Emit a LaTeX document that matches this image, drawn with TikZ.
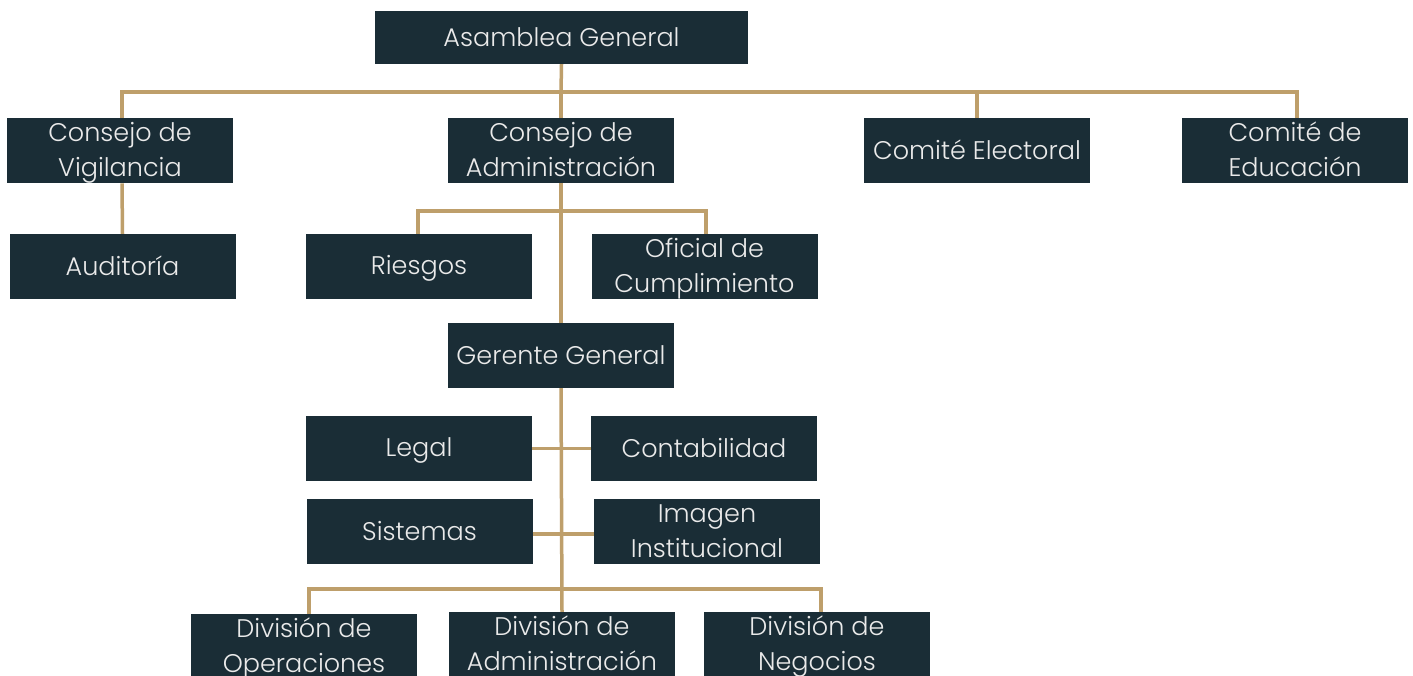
\documentclass[tikz,border=0pt]{standalone}
\usepackage{fontspec}
\setmainfont{Poppins}[UprightFont={* Light}]
\definecolor{boxc}{HTML}{1A2D36}
\definecolor{gold}{HTML}{BE9F6B}
\definecolor{txtc}{HTML}{EAEAEA}
\newcommand\mys{\rule[-6.5pt]{0pt}{30pt}}
\newcommand\lbl[1]{\mys#1\mys}
\begin{document}
\begin{tikzpicture}[x=1pt,y=-1pt,
  unit/.style={fill=boxc, text=txtc, minimum width=226pt, minimum height=65pt, inner sep=0pt, align=center, font=\fontsize{25.5}{35}\selectfont},
  link/.style={draw=gold, line width=3.5pt, line join=miter}]
\clip (0,0) rectangle (1413,675);
\fill[white] (0,0) rectangle (1413,675);
% coordinates of buses
\coordinate (b1) at (561,92);
\coordinate (b2) at (561,211);
\coordinate (b3) at (561,589);
% nodes
\node[unit, minimum width=373pt, minimum height=53pt] (ag) at (561.5,37.5) {\lbl{Asamblea General}};
\node[unit] (cv) at (120,150.5) {\lbl{Consejo de\\Vigilancia}};
\node[unit] (ca) at (561,150.5) {\lbl{Consejo de\\Administración}};
\node[unit] (ce) at (977,150.5) {\lbl{Comité Electoral}};
\node[unit] (cedu) at (1295,150.5) {\lbl{Comité de\\Educación}};
\node[unit] (aud) at (122.5,266.5) {\lbl{Auditoría}};
\node[unit] (rie) at (419,266.5) {\lbl{Riesgos}};
\node[unit] (ofc) at (704.5,266.5) {\lbl{Oficial de\\Cumplimiento}};
\node[unit] (gg) at (561,355.5) {\lbl{Gerente General}};
\node[unit] (leg) at (419,448.5) {\lbl{Legal}};
\node[unit] (con) at (704,448.5) {\lbl{Contabilidad}};
\node[unit] (sis) at (419.5,531.5) {\lbl{Sistemas}};
\node[unit] (img) at (707,531.5) {\lbl{Imagen\\Institucional}};
\node[unit] (dop) at (304,646.5) {\lbl{División de\\Operaciones}};
\node[unit] (dad) at (562,644.5) {\lbl{División de\\Administración}};
\node[unit] (dne) at (817,644.5) {\lbl{División de\\Negocios}};
% connectors
\draw[link] (ag.south) -- (b1);
\draw[link] (b1) -| ([xshift=2pt]cv.north);
\draw[link] (b1) -- (ca.north);
\draw[link] (b1) -| (ce.north);
\draw[link] (b1) -| ([xshift=2pt]cedu.north);
\draw[link] ([xshift=2pt]cv.south) -- (aud.north);
\draw[link] (ca.south) -- (gg.north);
\draw[link] (b2) -| ([xshift=-1pt]rie.north);
\draw[link] (b2) -| ([xshift=1.5pt]ofc.north);
\draw[link] (gg.south) -- (dad.north);
\draw[link] (leg.east) -- (con.west);
\draw[link] ([yshift=-2.5pt]sis.east) -- ([yshift=-2.5pt]img.west);
\draw[link] (b3) -| ([xshift=5pt]dop.north);
\draw[link] (b3) -| ([xshift=4pt]dne.north);
\end{tikzpicture}
\end{document}
